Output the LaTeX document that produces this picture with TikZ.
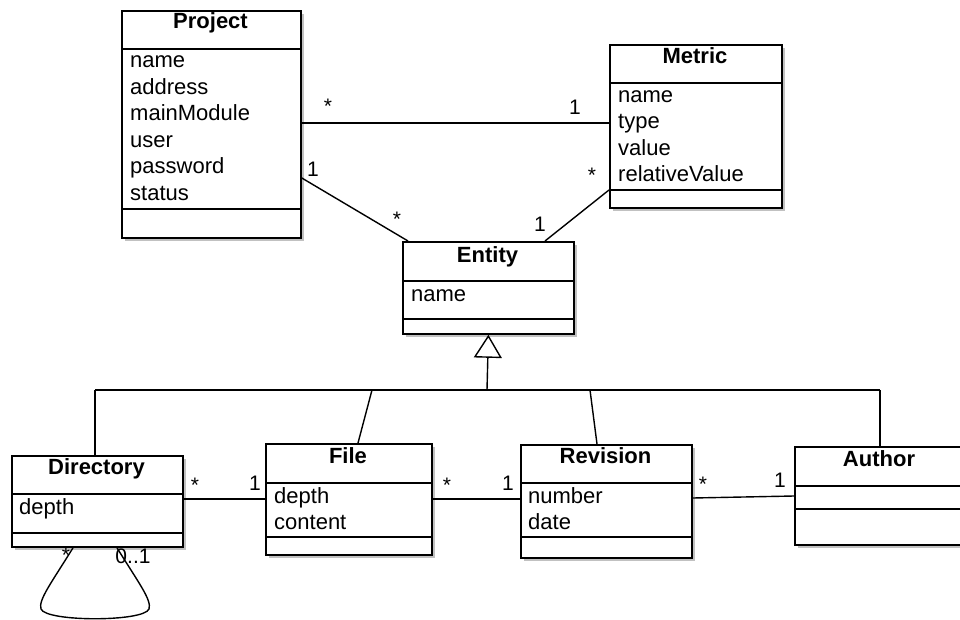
\documentclass[tikz,border=0pt]{standalone}
\usepackage{fontspec}
\setmainfont{Liberation Sans}
\usetikzlibrary{shadows,arrows.meta}

\tikzset{
  classbox/.style={draw, line width=1.8pt, fill=white, anchor=north west, inner sep=0pt,
    drop shadow={shadow xshift=3pt, shadow yshift=-3pt, opacity=0.35, fill=black!70}},
  sepline/.style={line width=1.5pt},
  assoc/.style={line width=1.4pt},
  classtitle/.style={anchor=base, font=\fontsize{22}{26}\selectfont\bfseries, inner sep=0pt},
  attr/.style={anchor=base west, font=\fontsize{22}{26}\selectfont, inner sep=0pt},
  mult/.style={anchor=base, font=\fontsize{21}{24}\selectfont, inner sep=0pt},
}

\begin{document}
\begin{tikzpicture}[x=1pt, y=-1pt]
  \useasboundingbox (0,0) rectangle (960,620);
  \clip (0,0) rectangle (960,620);

  % ---------------- classes ----------------
  % Project
  \node[classbox, minimum width=179pt, minimum height=227pt] (project) at (121,10) {};
  \draw[sepline] (project.west |- 0,49) -- (project.east |- 0,49);
  \draw[sepline] (project.west |- 0,209) -- (project.east |- 0,209);
  \node[classtitle] (projectT) at (210.5,28.5) {Project};
  \node[attr] (p1) at (130,68) {name};
  \node[attr] (p2) at (130,94.5) {address};
  \node[attr] (p3) at (130,121) {mainModule};
  \node[attr] (p4) at (130,147.5) {user};
  \node[attr] (p5) at (130,174) {password};
  \node[attr] (p6) at (130,200.5) {status};

  % Metric
  \node[classbox, minimum width=172pt, minimum height=163pt] (metric) at (609,44) {};
  \draw[sepline] (metric.west |- 0,83) -- (metric.east |- 0,83);
  \draw[sepline] (metric.west |- 0,190) -- (metric.east |- 0,190);
  \node[classtitle] (metricT) at (695,63.5) {Metric};
  \node[attr] (m1) at (618,103) {name};
  \node[attr] (m2) at (618,129) {type};
  \node[attr] (m3) at (618,155.5) {value};
  \node[attr] (m4) at (618,182) {relativeValue};

  % Entity
  \node[classbox, minimum width=171pt, minimum height=92pt] (entity) at (402,241) {};
  \draw[sepline] (entity.west |- 0,281) -- (entity.east |- 0,281);
  \draw[sepline] (entity.west |- 0,319) -- (entity.east |- 0,319);
  \node[classtitle] (entityT) at (487.5,262.5) {Entity};
  \node[attr] (e1) at (411,301) {name};

  % Directory
  \node[classbox, minimum width=171pt, minimum height=91pt] (directory) at (11,455) {};
  \draw[sepline] (directory.west |- 0,494) -- (directory.east |- 0,494);
  \draw[sepline] (directory.west |- 0,533) -- (directory.east |- 0,533);
  \node[classtitle] (directoryT) at (96.5,474.5) {Directory};
  \node[attr] (d1) at (19,514) {depth};

  % File
  \node[classbox, minimum width=166pt, minimum height=111pt] (file) at (265,443) {};
  \draw[sepline] (file.west |- 0,483) -- (file.east |- 0,483);
  \draw[sepline] (file.west |- 0,537) -- (file.east |- 0,537);
  \node[classtitle] (fileT) at (348,463.5) {File};
  \node[attr] (f1) at (274,503) {depth};
  \node[attr] (f2) at (274,529) {content};

  % Revision
  \node[classbox, minimum width=171pt, minimum height=113pt] (revision) at (520,444) {};
  \draw[sepline] (revision.west |- 0,483) -- (revision.east |- 0,483);
  \draw[sepline] (revision.west |- 0,537) -- (revision.east |- 0,537);
  \node[classtitle] (revisionT) at (605.5,463.5) {Revision};
  \node[attr] (r1) at (528,503) {number};
  \node[attr] (r2) at (528,529) {date};

  % Author (runs past the right edge)
  \node[classbox, minimum width=170pt, minimum height=98pt] (author) at (794,446) {};
  \draw[sepline] (author.west |- 0,486) -- (author.east |- 0,486);
  \draw[sepline] (author.west |- 0,509) -- (author.east |- 0,509);
  \node[classtitle] (authorT) at (879,466.5) {Author};

  % ---------------- associations ----------------
  \draw[assoc] (project.east |- 0,123) -- (metric.west |- 0,123);
  \node[mult] (pmA) at (328,114) {*};
  \node[mult] (pmB) at (575,115) {1};

  \draw[assoc] (project.east |- 0,178) -- (entity.north -| 408,0);
  \node[mult] (peA) at (313,177) {1};
  \node[mult] (peB) at (397,227) {*};

  \draw[assoc] (metric.west |- 0,190) -- (entity.north -| 545,0);
  \node[mult] (meA) at (592,183) {*};
  \node[mult] (meB) at (540,232) {1};

  \draw[assoc] (directory.east |- 0,499) -- (file.west |- 0,499);
  \node[mult] (dfA) at (195,492) {*};
  \node[mult] (dfB) at (255,490) {1};

  \draw[assoc] (file.east |- 0,499) -- (revision.west |- 0,499);
  \node[mult] (frA) at (447,492) {*};
  \node[mult] (frB) at (508,490) {1};

  \draw[assoc] (revision.east |- 0,498) -- (author.west |- 0,496);
  \node[mult] (raA) at (703,491) {*};
  \node[mult] (raB) at (780,487) {1};

  % self association of Directory
  \coordinate (loopA) at (directory.south -| 73,0);
  \coordinate (loopB) at (directory.south -| 117,0);
  \draw[assoc] (loopA) .. controls (52,582) and (38,600) .. (41,609)
               .. controls (46,622) and (144,622) .. (149,609)
               .. controls (152,600) and (138,582) .. (loopB);
  \node[mult] (lpA) at (66,562) {*};
  \node[mult] (lpB) at (133,563) {0..1};

  % ---------------- generalisation ----------------
  \coordinate (hub) at (487,390);
  \coordinate (tl) at (95,390);
  \coordinate (tr) at (880,390);
  \coordinate (tf) at (372,390);
  \coordinate (tv) at (590,390);
  \draw[assoc] (tl) -- (tr);
  \draw[assoc, -{Triangle[open, length=23pt, width=28pt, line width=1.4pt]}]
       (hub) -- (entity.south);
  \draw[assoc] (tl) -- (directory.north -| tl);
  \draw[assoc] (tf) -- (file.north -| 358,0);
  \draw[assoc] (tv) -- (revision.north -| 597,0);
  \draw[assoc] (tr) -- (author.north -| tr);
\end{tikzpicture}
\end{document}
